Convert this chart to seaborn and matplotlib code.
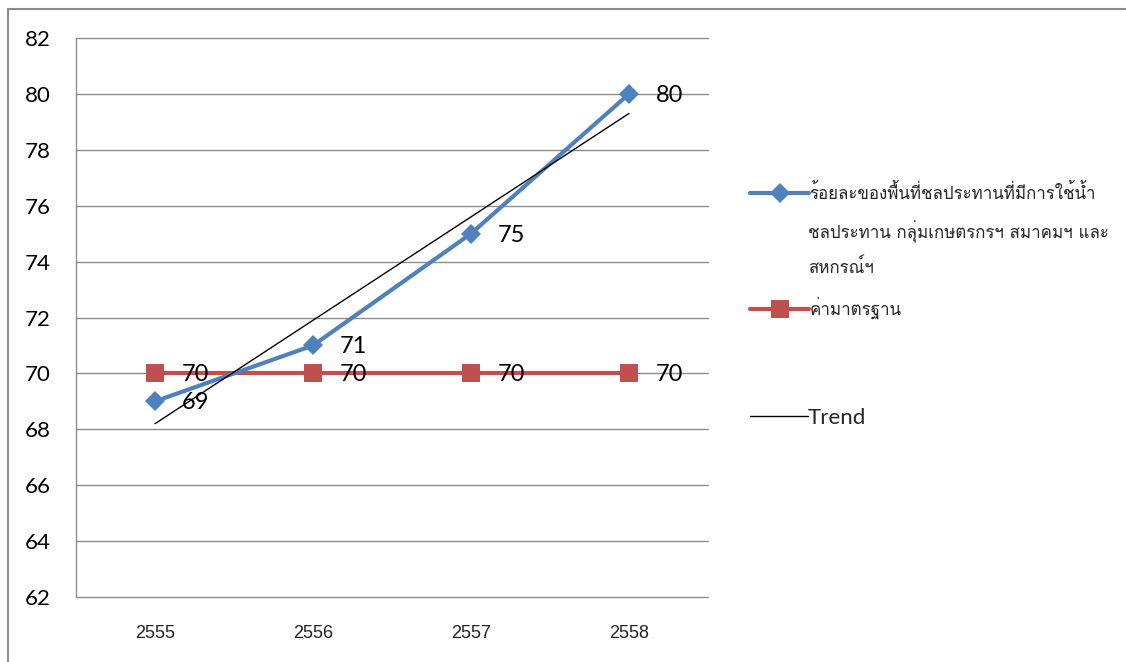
import numpy as np
import pandas as pd
import seaborn as sns
import matplotlib.pyplot as plt
from matplotlib.lines import Line2D
from matplotlib import font_manager
from matplotlib.ft2font import FT2Font

years = ["2555", "2556", "2557", "2558"]
pct_values = [69, 71, 75, 80]
std_values = [70, 70, 70, 70]
pct_label_lines = ["ร้อยละของพื้นที่ชลประทานที่มีการใช้น้ำ",
                   "ชลประทาน กลุ่มเกษตรกรฯ สมาคมฯ และ",
                   "สหกรณ์ฯ"]
std_label = "ค่ามาตรฐาน"
trend_label = "Trend"


def thai_family():
    # pick any installed font that has Thai glyphs
    for f in font_manager.fontManager.ttflist:
        try:
            if 0x0E23 in FT2Font(f.fname).get_charmap():
                return f.name
        except Exception:
            pass
    return "DejaVu Sans"


THAI = [thai_family(), "DejaVu Sans"]

sns.set_theme(style="white")
plt.rcParams["font.family"] = ["Lato", "DejaVu Sans"]

BLUE = "#4F81BD"
RED = "#C0504D"
GRID = "#8C8C8C"

df_pct = pd.DataFrame({"year": years, "value": pct_values})
df_std = pd.DataFrame({"year": years, "value": std_values})

fig = plt.figure(figsize=(11.26, 6.62), dpi=100)
ax = fig.add_axes([76 / 1126, 65 / 662, 632 / 1126, 559 / 662])

sns.lineplot(data=df_std, x="year", y="value", color=RED, linewidth=3,
             marker="s", markersize=13, markeredgewidth=0, sort=False, ax=ax,
             legend=False)
sns.lineplot(data=df_pct, x="year", y="value", color=BLUE, linewidth=3,
             marker="D", markersize=10, markeredgewidth=0, sort=False, ax=ax,
             legend=False)

# linear trend of the blue series
xs = np.arange(len(years))
slope, icpt = np.polyfit(xs, pct_values, 1)
ax.plot(xs, slope * xs + icpt, color="black", linewidth=1, zorder=5)

for i, v in enumerate(std_values):
    ax.annotate(str(v), (i, v), xytext=(19, -1), textcoords="offset points",
                ha="left", va="center", fontsize=17, color="black", zorder=6)
for i, v in enumerate(pct_values):
    ax.annotate(str(v), (i, v), xytext=(19, -1), textcoords="offset points",
                ha="left", va="center", fontsize=17, color="black", zorder=6)

ax.set_xlim(-0.5, len(years) - 0.5)
ax.set_ylim(62, 82)
ax.set_yticks(range(62, 83, 2))
ax.yaxis.grid(True, color=GRID, linewidth=1)
ax.xaxis.grid(False)
ax.set_axisbelow(True)
for gl in ax.get_ygridlines():
    gl.set_clip_on(False)
for s in ["top", "right", "bottom"]:
    ax.spines[s].set_visible(False)
ax.spines["left"].set_color(GRID)
ax.spines["left"].set_linewidth(1)
ax.tick_params(axis="y", length=0, pad=18, labelsize=16, labelcolor="black")
ax.tick_params(axis="x", length=0, pad=20, labelsize=13, labelcolor="#222222")
for t in ax.get_xticklabels():
    t.set_family(["Liberation Sans Narrow", "Liberation Sans", "DejaVu Sans"])
ax.set_xlabel("")
ax.set_ylabel("")

# legend, one entry at a time
lx = 750 / 1126
h_pct = Line2D([], [], color=BLUE, linewidth=3, marker="D", markersize=10,
               markeredgewidth=0)
h_std = Line2D([], [], color=RED, linewidth=3, marker="s", markersize=13,
               markeredgewidth=0)
h_trend = Line2D([], [], color="black", linewidth=1)

fig.legend([h_pct], [pct_label_lines[0]], loc="center left",
           bbox_to_anchor=(lx, 1 - 193 / 662), frameon=False,
           borderpad=0, borderaxespad=0, handlelength=3.5,
           handletextpad=0, prop={"family": THAI, "size": 12.2})
fig.legend([h_std], [std_label], loc="center left",
           bbox_to_anchor=(lx, 1 - 308 / 662), frameon=False,
           borderpad=0, borderaxespad=0, handlelength=3.5,
           handletextpad=0, prop={"family": THAI, "size": 12.2})
fig.legend([h_trend], [trend_label], loc="center left",
           bbox_to_anchor=(lx, 1 - 418 / 662), frameon=False,
           borderpad=0, borderaxespad=0, handlelength=2.6,
           handletextpad=0, prop={"size": 16})

# wrapped part of the long legend label
for k, line in enumerate(pct_label_lines[1:], start=1):
    fig.text(808 / 1126, 1 - (193 + 37.5 * k) / 662, line, ha="left",
             va="center", fontsize=12.2, family=THAI)

# outer chart frame
fig.add_artist(Line2D([8 / 1126, 8 / 1126], [0, 1 - 9 / 662],
                      transform=fig.transFigure, color=GRID, linewidth=1.5))
fig.add_artist(Line2D([8 / 1126, 1], [1 - 9 / 662, 1 - 9 / 662],
                      transform=fig.transFigure, color=GRID, linewidth=1.5))

fig.savefig("out.png", dpi=100)
